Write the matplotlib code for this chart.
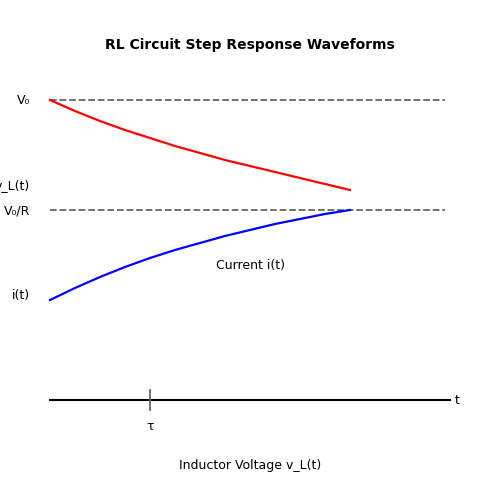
import matplotlib
matplotlib.use("Agg")
import matplotlib.pyplot as plt

t_px = [50, 75, 100, 125, 150, 175, 200, 225, 250, 275, 300, 325, 350]
vL_px = [100, 111, 121, 130, 138, 146, 153, 160, 166, 172, 178, 184, 190]
i_px = [300, 288, 277, 267, 258, 250, 243, 236, 230, 224, 219, 214, 210]

fig = plt.figure(figsize=(5, 5), dpi=100)
ax = fig.add_axes([0, 0, 1, 1])
ax.set_xlim(0, 500)
ax.set_ylim(500, 0)
ax.axis("off")

ax.plot([50, 445], [100, 100], ls="--", color="#666666", lw=1.3)
ax.plot([50, 445], [210, 210], ls="--", color="#666666", lw=1.3)
ax.plot(t_px, vL_px, color="red", lw=1.6)
ax.plot(t_px, i_px, color="blue", lw=1.6)
ax.plot([50, 450], [400, 400], color="black", lw=1.5)
ax.plot([150, 150], [390, 410], color="#666666", lw=1.3)

fs = 9
ax.text(250, 45, "RL Circuit Step Response Waveforms", ha="center", va="center", fontsize=10, fontweight="bold")
ax.text(30, 101, "V₀", ha="right", va="center", fontsize=fs)
ax.text(30, 186, "v_L(t)", ha="right", va="center", fontsize=fs)
ax.text(30, 211, "V₀/R", ha="right", va="center", fontsize=fs)
ax.text(30, 296, "i(t)", ha="right", va="center", fontsize=fs)
ax.text(250, 266, "Current i(t)", ha="center", va="center", fontsize=fs)
ax.text(455, 401, "t", ha="left", va="center", fontsize=fs)
ax.text(150, 426, "τ", ha="center", va="center", fontsize=fs)
ax.text(250, 466, "Inductor Voltage v_L(t)", ha="center", va="center", fontsize=fs)

fig.savefig("out.png", dpi=100)
